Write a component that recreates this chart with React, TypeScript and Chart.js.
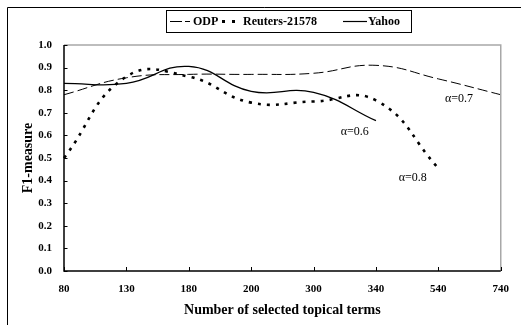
import React, { useEffect, useRef } from "react";
import { Chart, registerables } from "chart.js";

Chart.register(...registerables);

const categories = ["80", "130", "180", "200", "300", "340", "540", "740"];
const odpValues = [0.78, 0.855, 0.87, 0.87, 0.875, 0.91, 0.85, 0.78];
const reutersValues = [0.5, 0.86, 0.86, 0.745, 0.75, 0.755, 0.455, null];
const yahooValues = [0.83, 0.83, 0.905, 0.795, 0.79, 0.665, null, null];
const yTicks = [0, 0.1, 0.2, 0.3, 0.4, 0.5, 0.6, 0.7, 0.8, 0.9, 1.0];
const seriesNames = ["ODP", "Reuters-21578", "Yahoo"];
const annotationTexts = ["\u03b1=0.6", "\u03b1=0.7", "\u03b1=0.8"];
const annotationIndex = [4.66, 6.33, 5.59];
const annotationValue = [0.615, 0.761, 0.411];
const xTitle = "Number of selected topical terms";
const yTitle = "F1-measure";

const SERIF = "'Liberation Serif', 'Times New Roman', serif";

const decorPlugin = {
  id: "decor",
  beforeDraw(chart: any) {
    const ctx = chart.ctx;
    ctx.save();
    ctx.fillStyle = "#ffffff";
    ctx.fillRect(0, 0, chart.width, chart.height);
    ctx.strokeStyle = "#000000";
    ctx.lineWidth = 1;
    ctx.beginPath();
    ctx.moveTo(7.5, chart.height + 2);
    ctx.lineTo(7.5, 7.5);
    ctx.lineTo(chart.width + 2, 7.5);
    ctx.stroke();
    ctx.restore();
  },
  afterDraw(chart: any) {
    const ctx = chart.ctx;
    const { left, right, top, bottom } = chart.chartArea;
    const xs = chart.scales.x;
    const ys = chart.scales.y;
    ctx.save();
    // plot border: top/right gray
    ctx.strokeStyle = "#a8a8a8";
    ctx.lineWidth = 1.5;
    ctx.beginPath();
    ctx.moveTo(left, top);
    ctx.lineTo(right, top);
    ctx.lineTo(right, bottom);
    ctx.stroke();
    // axes black
    ctx.strokeStyle = "#000000";
    ctx.lineWidth = 1.5;
    ctx.beginPath();
    ctx.moveTo(left, top);
    ctx.lineTo(left, bottom);
    ctx.lineTo(right, bottom);
    ctx.stroke();
    // inward ticks
    ctx.lineWidth = 1;
    ctx.beginPath();
    yTicks.forEach((v) => {
      const y = Math.round(ys.getPixelForValue(v)) + 0.5;
      ctx.moveTo(left, y);
      ctx.lineTo(left + 3.5, y);
    });
    categories.forEach((_, i) => {
      const x = Math.round(xs.getPixelForValue(i)) + 0.5;
      ctx.moveTo(x, bottom);
      ctx.lineTo(x, bottom - 4);
    });
    ctx.stroke();

    // annotations
    ctx.fillStyle = "#000000";
    ctx.font = `12px ${SERIF}`;
    ctx.textAlign = "center";
    ctx.textBaseline = "middle";
    annotationTexts.forEach((t, i) => {
      ctx.fillText(
        t,
        xs.getPixelForValue(annotationIndex[i]),
        ys.getPixelForValue(annotationValue[i])
      );
    });

    // axis titles
    ctx.font = `bold 14px ${SERIF}`;
    ctx.fillText(xTitle, (left + right) / 2, 310);
    ctx.save();
    ctx.translate(28, (top + bottom) / 2);
    ctx.rotate(-Math.PI / 2);
    ctx.fillText(yTitle, 0, 0);
    ctx.restore();

    // legend
    const lx0 = 166.5, ly0 = 10.5, lx1 = 411.5, ly1 = 32.5;
    ctx.strokeStyle = "#000000";
    ctx.lineWidth = 1;
    ctx.strokeRect(lx0, ly0, lx1 - lx0, ly1 - ly0);
    const cy = 21.5;
    ctx.font = `bold 12px ${SERIF}`;
    ctx.textAlign = "left";
    ctx.textBaseline = "middle";
    // ODP sample: long dash + short dash
    ctx.lineWidth = 1;
    ctx.beginPath();
    ctx.moveTo(170, cy);
    ctx.lineTo(182, cy);
    ctx.moveTo(185, cy);
    ctx.lineTo(190, cy);
    ctx.stroke();
    ctx.fillText(seriesNames[0], 193, cy + 0.5);
    // Reuters sample: squares
    ctx.fillRect(222, cy - 1.5, 3, 3);
    ctx.fillRect(232, cy - 1.5, 3, 3);
    ctx.fillText(seriesNames[1], 243, cy + 0.5);
    // Yahoo sample: solid
    ctx.lineWidth = 1.2;
    ctx.beginPath();
    ctx.moveTo(343, cy);
    ctx.lineTo(367, cy);
    ctx.stroke();
    ctx.fillText(seriesNames[2], 368, cy + 0.5);
    ctx.restore();
  },
};

export default function App() {
  const ref = useRef<HTMLCanvasElement | null>(null);
  useEffect(() => {
    document.body.style.margin = "0";
    const canvas = ref.current!;
    const chart = new Chart(canvas, {
      type: "line",
      data: {
        labels: categories,
        datasets: [
          {
            label: seriesNames[0],
            data: odpValues,
            borderColor: "#000000",
            borderWidth: 1,
            borderDash: [10, 4],
            pointRadius: 0,
            tension: 0.45,
            fill: false,
          },
          {
            label: seriesNames[1],
            data: reutersValues as any,
            borderColor: "#000000",
            borderWidth: 2.6,
            borderDash: [3, 6],
            borderCapStyle: "butt",
            pointRadius: 0,
            tension: 0.45,
            fill: false,
          },
          {
            label: seriesNames[2],
            data: yahooValues as any,
            borderColor: "#000000",
            borderWidth: 1.3,
            pointRadius: 0,
            tension: 0.45,
            fill: false,
          },
        ],
      },
      options: {
        responsive: false,
        animation: false,
        devicePixelRatio: 1,
        layout: { padding: { left: 0, top: 45, right: 9, bottom: 0 } },
        plugins: {
          legend: { display: false },
          tooltip: { enabled: false },
        },
        scales: {
          x: {
            type: "category",
            offset: false,
            grid: { display: false, drawTicks: false },
            border: { display: false },
            ticks: {
              color: "#000000",
              font: { family: SERIF, size: 11, weight: "bold" },
              padding: 12,
              maxRotation: 0,
              autoSkip: false,
            },
            afterFit: (s: any) => {
              s.height = 54;
            },
          },
          y: {
            min: 0,
            max: 1,
            grid: { display: false, drawTicks: false },
            border: { display: false },
            ticks: {
              stepSize: 0.1,
              color: "#000000",
              font: { family: SERIF, size: 11, weight: "bold" },
              padding: 12,
              callback: (v: any) => Number(v).toFixed(1),
            },
            afterFit: (s: any) => {
              s.width = 64;
            },
          },
        },
      },
      plugins: [decorPlugin],
    });
    return () => chart.destroy();
  }, []);
  return (
    <canvas
      ref={ref}
      width={521}
      height={325}
      style={{ display: "block", width: 521, height: 325 }}
    />
  );
}
